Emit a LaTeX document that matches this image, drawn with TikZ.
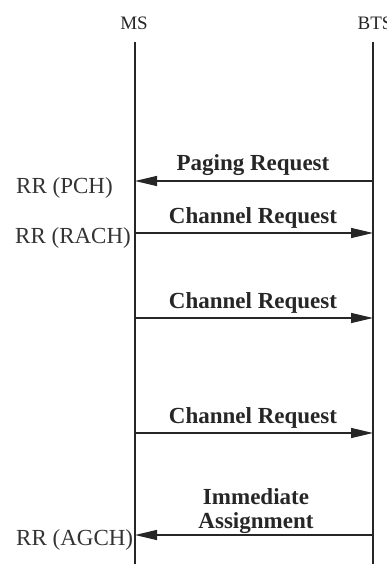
\documentclass[tikz,border=0pt]{standalone}
\usepackage{fontspec}
\setmainfont{Liberation Serif}
\usetikzlibrary{arrows.meta}
\begin{document}
\begin{tikzpicture}[x=1pt,y=-1pt,
  lifeline/.style={line width=1.3pt, draw=black!85},
  msg/.style={line width=1.3pt, draw=black!85, -{Triangle[length=22pt,width=10pt]}},
  msglabel/.style={font=\fontsize{23}{24}\selectfont\bfseries, inner sep=0pt, text=black!85},
  rrlabel/.style={font=\fontsize{23}{24}\selectfont, anchor=base west, inner sep=0pt, text=black!80},
  head/.style={font=\fontsize{19}{19}\selectfont, anchor=base, inner sep=0pt, text=black!85}]
\useasboundingbox (0,0) rectangle (387,564);
\clip (0,0) rectangle (387,564);

% entity headings
\node[head] (msname) at (134,30) {MS};
\node[head] (btsname) at (375,30) {BTS};

% lifelines
\coordinate (msTop) at (135,42);
\coordinate (msBot) at (135,564);
\coordinate (btsTop) at (373,42);
\coordinate (btsBot) at (373,564);
\draw[lifeline] (msTop) -- (msBot);
\draw[lifeline] (btsTop) -- (btsBot);

% message anchor points on the lifelines
\coordinate (ms1) at (135,181);  \coordinate (bts1) at (373,181);
\coordinate (ms2) at (135,233);  \coordinate (bts2) at (373,233);
\coordinate (ms3) at (135,318);  \coordinate (bts3) at (373,318);
\coordinate (ms4) at (135,433);  \coordinate (bts4) at (373,433);
\coordinate (ms5) at (135,535);  \coordinate (bts5) at (373,535);

% messages
\draw[msg] (bts1) -- (ms1);
\draw[msg] (ms2) -- (bts2);
\draw[msg] (ms3) -- (bts3);
\draw[msg] (ms4) -- (bts4);
\draw[msg] (bts5) -- (ms5);

% message labels
\node[msglabel, anchor=base] (l1) at (253,171) {Paging Request};
\node[msglabel, anchor=base] (l2) at (253,223) {Channel Request};
\node[msglabel, anchor=base] (l3) at (253,308) {Channel Request};
\node[msglabel, anchor=base] (l4) at (253,423) {Channel Request};
\node[msglabel, anchor=south, align=center] (l5) at (256,534) {Immediate\\Assignment};

% channel labels at the MS side
\node[rrlabel] (rr1) at (16,193) {RR (PCH)};
\node[rrlabel] (rr2) at (15,243) {RR (RACH)};
\node[rrlabel] (rr3) at (16,545) {RR (AGCH)};
\end{tikzpicture}
\end{document}
